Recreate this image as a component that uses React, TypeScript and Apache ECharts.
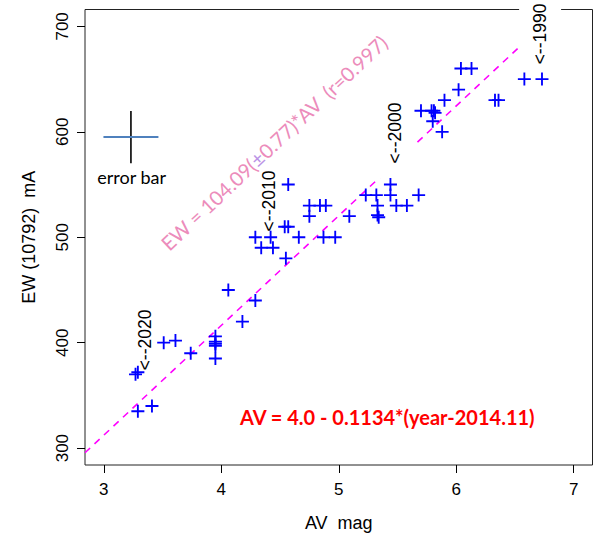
import React, { useEffect, useRef } from "react";
import * as echarts from "echarts";

// axis ranges and ticks
const xRange = [2.84, 7.16];
const yRange = [284, 716];
const xTicks = [3, 4, 5, 6, 7];
const yTicks = [300, 400, 500, 600, 700];

// observations: AV (mag) and EW(10792) (mA)
const avMag = [
  3.27, 3.29, 3.29, 3.41, 3.51, 3.61, 3.74, 3.95, 3.95, 3.95, 3.95, 3.95, 4.06, 4.18, 4.29,
  4.29, 4.42, 4.34, 4.44, 4.55, 4.54, 4.57, 4.57, 4.66, 4.75, 4.75, 4.84, 4.89, 4.87, 4.97,
  5.09, 5.23, 5.32, 5.33, 5.33, 5.34, 5.44, 5.44, 5.49, 5.58, 5.68,
  5.70, 5.79, 5.81, 5.82, 5.80, 5.88, 5.90, 6.02, 6.04, 6.13, 6.33, 6.36, 6.58, 6.73,
];
const ewMa = [
  370, 372, 335, 340, 400, 402, 390, 406, 401, 399, 397, 385, 450, 420, 440,
  500, 500, 490, 490, 480, 510, 510, 550, 500, 530, 520, 530, 530, 500, 500,
  520, 540, 540, 530, 521, 519, 550, 540, 530, 530, 540,
  620, 620, 620, 618, 610, 600, 630, 640, 660, 660, 630, 630, 650, 650,
];

// fit EW = slope * AV
const fitSlope = 104.09;

// year annotations (plain ones, and ones on a white box)
const yearLabelsPlain = ["<--2020", "<--2010"];
const yearPlainAV = [3.35, 4.403];
const yearPlainEW = [402.6, 534.4];
const yearLabelsBoxed = ["<--2000", "<--1990"];
const yearBoxedAV = [5.482, 6.714];
const yearBoxedEW = [598.9, 692.8];

// error bar sample
const errBarAV = 3.231;
const errBarEW = 595;
const errBarDAV = 0.234;
const errBarDEW = 24.8;
const errBarText = "error bar";
const errBarTextAV = 3.237;
const errBarTextEW = 557.4;

const fitText = ["EW = 104.09(", "±", "0.77)*AV  (r=0.997)"];
const avFormula = "AV = 4.0 - 0.1134*(year-2014.11)";

const PLUS = "path://M6,0H8V6H14V8H8V14H6V8H0V6H6Z";
const SANS = "Arial, 'Liberation Sans', Helvetica, sans-serif";

export default function App() {
  const ref = useRef<HTMLDivElement>(null);
  useEffect(() => {
    if (!ref.current) return;
    const chart = echarts.init(ref.current, null, { renderer: "svg" });
    const points = avMag.map((x, i) => [x, ewMa[i]]);
    const fitLine = [
      [xRange[0], fitSlope * xRange[0]],
      [yRange[1] / fitSlope, yRange[1]],
    ];
    const yearLabel = {
      show: true,
      position: "inside",
      rotate: 90,
      formatter: (p: any) => p.name,
      fontFamily: SANS,
      fontSize: 17.5,
      color: "#000000",
      opacity: 1,
    };
    const axisFont = { fontFamily: SANS, fontSize: 17, color: "#000" };
    chart.setOption({
      animation: false,
      textStyle: { fontFamily: SANS },
      grid: {
        left: 85,
        top: 9.5,
        right: 2.5,
        bottom: 72,
        show: true,
        z: 0,
        borderColor: "#222",
        borderWidth: 1,
        backgroundColor: "transparent",
      },
      xAxis: {
        type: "value",
        min: xRange[0],
        max: xRange[1],
        name: "AV  mag",
        nameLocation: "middle",
        nameGap: 49,
        nameTextStyle: { ...axisFont, fontSize: 18 },
        axisLine: { show: false },
        splitLine: { show: false },
        axisTick: { show: true, length: 8, inside: false, customValues: xTicks, lineStyle: { color: "#000" } },
        axisLabel: { ...axisFont, margin: 16, customValues: xTicks },
      },
      yAxis: {
        type: "value",
        min: yRange[0],
        max: yRange[1],
        name: "EW (10792)  mA",
        nameLocation: "middle",
        nameGap: 47,
        nameTextStyle: { ...axisFont, fontSize: 18 },
        axisLine: { show: false },
        splitLine: { show: false },
        axisTick: { show: true, length: 8, inside: false, customValues: yTicks, lineStyle: { color: "#000" } },
        axisLabel: { ...axisFont, margin: 14, rotate: 90, customValues: yTicks },
      },
      series: [
        {
          type: "line",
          z: 1,
          data: fitLine,
          symbol: "none",
          clip: true,
          lineStyle: { color: "#ff00ff", width: 1.6, type: [7, 6] },
        },
        {
          type: "scatter",
          z: 2,
          clip: false,
          symbol: "circle",
          symbolSize: 1,
          itemStyle: { opacity: 0 },
          data: yearLabelsPlain.map((t, i) => ({ name: t, value: [yearPlainAV[i], yearPlainEW[i]] })),
          label: yearLabel,
        },
        {
          type: "scatter",
          z: 2,
          clip: false,
          symbol: "circle",
          symbolSize: 1,
          itemStyle: { opacity: 0 },
          data: yearLabelsBoxed.map((t, i) => ({ name: t, value: [yearBoxedAV[i], yearBoxedEW[i]] })),
          label: { ...yearLabel, backgroundColor: "#ffffff", padding: [12, 15] },
        },
        {
          type: "line",
          z: 3,
          symbol: "none",
          data: [
            [errBarAV, errBarEW - errBarDEW],
            [errBarAV, errBarEW + errBarDEW],
          ],
          lineStyle: { color: "#000", width: 1.6 },
        },
        {
          type: "line",
          z: 4,
          symbol: "none",
          data: [
            [errBarAV - errBarDAV, errBarEW],
            [errBarAV + errBarDAV, errBarEW],
          ],
          lineStyle: { color: "#4f81bd", width: 2 },
        },
        {
          type: "scatter",
          z: 4,
          symbol: "circle",
          symbolSize: 1,
          itemStyle: { opacity: 0 },
          data: [{ value: [errBarTextAV, errBarTextEW], name: errBarText }],
          label: {
            show: true,
            position: "inside",
            formatter: (p: any) => p.name,
            fontFamily: "Lato",
            fontSize: 18,
            color: "#000000",
            opacity: 1,
          },
        },
        {
          type: "scatter",
          z: 5,
          symbol: PLUS,
          symbolSize: 13,
          data: points,
          itemStyle: { color: "#0000ff", opacity: 1 },
        },
      ],
      graphic: [
        {
          type: "text",
          x: 274,
          y: 142.5,
          rotation: (43.3 * Math.PI) / 180,
          z: 10,
          style: {
            text: `{a|${fitText[0]}}{b|${fitText[1]}}{a|${fitText[2]}}`,
            align: "center",
            verticalAlign: "middle",
            rich: {
              a: { fill: "#ec8cbb", fontSize: 20, fontFamily: "Lato" },
              b: { fill: "#bb94e6", fontSize: 20, fontFamily: "Lato" },
            },
          },
        },
        {
          type: "text",
          x: 240,
          y: 416.7,
          z: 10,
          style: {
            text: avFormula,
            fill: "#ff0000",
            fontSize: 20,
            fontWeight: "bold",
            fontFamily: "Lato",
            align: "left",
            verticalAlign: "middle",
          },
        },
      ],
    });
    return () => chart.dispose();
  }, []);
  return (
    <div
      ref={ref}
      style={{ position: "fixed", left: 0, top: 0, width: 595, height: 537, background: "#fff" }}
    />
  );
}
